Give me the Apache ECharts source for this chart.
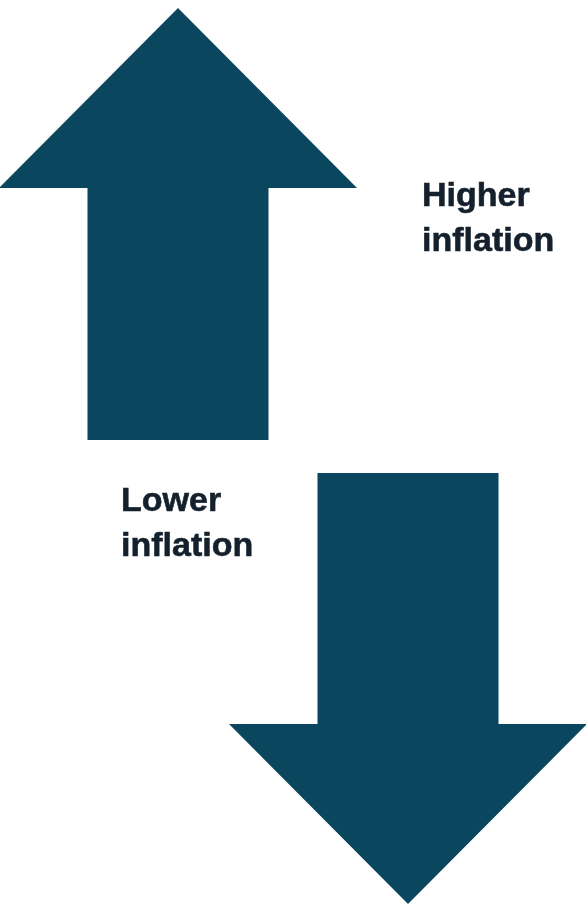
<!DOCTYPE html>
<html>
<head>
<meta charset="utf-8">
<script src="https://cdn.jsdelivr.net/npm/echarts@6/dist/echarts.min.js"></script>
<style>
html,body{margin:0;padding:0;background:#fff;}
#chart{width:586px;height:905px;}
</style>
</head>
<body>
<div id="chart"></div>
<script>
// Arrow definitions (diagram units on hidden axes)
var arrowNames = ['up', 'down'];
var arrowCenterX = [178, 408];
var arrowTipY = [8, 904];
var arrowHeadBaseY = [188, 724];
var arrowTailY = [440, 473];
var arrowHeadHalfWidth = [179, 179];
var arrowShaftHalfWidth = [90.5, 90.5];

// Labels
var labelTexts = ['Higher\ninflation', 'Lower\ninflation'];
var labelX = [422, 121];
var labelY = [174, 479];

var arrowData = arrowNames.map(function (n, i) {
  return [arrowCenterX[i], arrowTipY[i], arrowHeadBaseY[i], arrowTailY[i], arrowHeadHalfWidth[i], arrowShaftHalfWidth[i]];
});
var labelData = labelTexts.map(function (t, i) {
  return [labelX[i], labelY[i], t];
});

var chart = echarts.init(document.getElementById('chart'));
chart.setOption({
  animation: false,
  backgroundColor: '#ffffff',
  grid: { left: 0, right: 0, top: 0, bottom: 0 },
  xAxis: { type: 'value', min: 0, max: 586, show: false },
  yAxis: { type: 'value', min: 0, max: 905, inverse: true, show: false },
  series: [
    {
      type: 'custom',
      data: arrowData,
      renderItem: function (params, api) {
        var cx = api.value(0), tip = api.value(1), hb = api.value(2), tail = api.value(3);
        var hw = api.value(4), sw = api.value(5);
        var pts = [
          [cx, tip], [cx + hw, hb], [cx + sw, hb], [cx + sw, tail],
          [cx - sw, tail], [cx - sw, hb], [cx - hw, hb]
        ].map(function (p) { return api.coord(p); });
        return {
          type: 'polygon',
          shape: { points: pts },
          style: { fill: '#0a475e' }
        };
      }
    },
    {
      type: 'custom',
      data: labelData,
      renderItem: function (params, api) {
        var p = api.coord([api.value(0), api.value(1)]);
        return {
          type: 'text',
          x: p[0], y: p[1],
          style: {
            text: labelTexts[params.dataIndex],
            fill: '#14202c',
            stroke: '#14202c',
            lineWidth: 0.6,
            font: 'bold 34px "Liberation Sans", Arial, sans-serif',
            lineHeight: 45,
            align: 'left',
            verticalAlign: 'top'
          }
        };
      }
    }
  ]
});
</script>
</body>
</html>
